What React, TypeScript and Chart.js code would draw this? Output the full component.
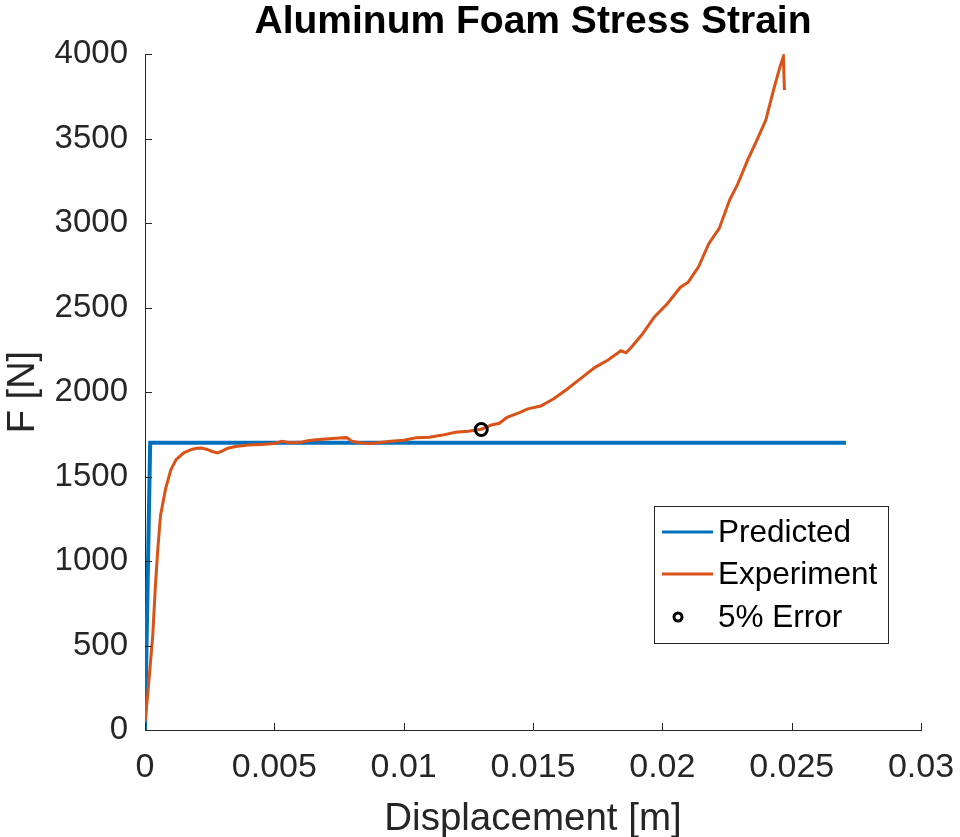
import React, { useEffect, useRef } from 'react';
import { Chart, registerables } from 'chart.js';

Chart.register(...registerables);

// ---- data ----
const predictedX = [0, 0.0002, 0.0271];
const predictedY = [0, 1700, 1700];

const experimentX = [
  0, 0.0001, 0.0002, 0.0003, 0.0004, 0.0005, 0.0006, 0.0008, 0.001, 0.0012,
  0.0015, 0.0018, 0.002, 0.0022, 0.0024, 0.0026, 0.0028, 0.003, 0.0032, 0.0035,
  0.004, 0.0045, 0.005, 0.0053, 0.0056, 0.006, 0.0063, 0.0066, 0.007, 0.0075,
  0.0078, 0.008, 0.0083, 0.0087, 0.009, 0.0095, 0.01, 0.0105, 0.011, 0.0115,
  0.012, 0.0125, 0.013, 0.0134, 0.0137, 0.014, 0.0145, 0.0148, 0.0153, 0.0158,
  0.0163, 0.0168, 0.0174, 0.0179, 0.0184, 0.0186, 0.0188, 0.0192, 0.0197, 0.0202,
  0.0207, 0.021, 0.0214, 0.0218, 0.0222, 0.0226, 0.0229, 0.0233, 0.0236, 0.024,
  0.0243, 0.02455, 0.02468, 0.02472,
];
const experimentY = [
  50, 200, 380, 560, 850, 1080, 1270, 1430, 1540, 1600,
  1640, 1660, 1667, 1668, 1660, 1648, 1640, 1652, 1667, 1678,
  1686, 1690, 1695, 1708, 1700, 1702, 1712, 1718, 1722, 1728,
  1730, 1708, 1700, 1696, 1700, 1708, 1714, 1730, 1732, 1745,
  1762, 1768, 1780, 1805, 1815, 1850, 1880, 1900, 1917, 1960,
  2015, 2075, 2146, 2189, 2244, 2232, 2265, 2337, 2446, 2524,
  2620, 2650, 2741, 2879, 2968, 3136, 3225, 3373, 3471, 3609,
  3787, 3925, 3984, 3787,
];

const errorX = [0.013];
const errorY = [1778];

const seriesLabels = ['Predicted', 'Experiment', '5% Error'];

const xTicks = [0, 0.005, 0.01, 0.015, 0.02, 0.025, 0.03];
const xTickLabels = ['0', '0.005', '0.01', '0.015', '0.02', '0.025', '0.03'];
const yTicks = [0, 500, 1000, 1500, 2000, 2500, 3000, 3500, 4000];
const yTickLabels = ['0', '500', '1000', '1500', '2000', '2500', '3000', '3500', '4000'];

const titleText = 'Aluminum Foam Stress Strain';
const xTitle = 'Displacement [m]';
const yTitle = 'F [N]';

const FONT = "'Liberation Sans', Arial, Helvetica, sans-serif";
const AXIS = '#262626';

const toPoints = (xs: number[], ys: number[]) => xs.map((x, i) => ({ x, y: ys[i] }));

const inwardTicks = {
  id: 'inwardTicks',
  afterDraw(chart: any) {
    const { ctx, chartArea, scales } = chart;
    const len = 7;
    ctx.save();
    ctx.strokeStyle = AXIS;
    ctx.lineWidth = 1;
    ctx.beginPath();
    xTicks.forEach((v) => {
      const px = Math.round(scales.x.getPixelForValue(v)) + 0.5;
      ctx.moveTo(px, chartArea.bottom);
      ctx.lineTo(px, chartArea.bottom - len);
    });
    yTicks.forEach((v) => {
      const py = Math.round(scales.y.getPixelForValue(v)) + 0.5;
      ctx.moveTo(chartArea.left, py);
      ctx.lineTo(chartArea.left + len, py);
    });
    ctx.stroke();
    ctx.restore();
  },
};

const boxLegend = {
  id: 'boxLegend',
  afterDraw(chart: any) {
    const { ctx, chartArea } = chart;
    const w = 234;
    const h = 137;
    const left = chartArea.right - 33 - w;
    const top = chartArea.top + 452;
    ctx.save();
    ctx.fillStyle = '#ffffff';
    ctx.fillRect(left, top, w, h);
    ctx.strokeStyle = AXIS;
    ctx.lineWidth = 1;
    ctx.strokeRect(Math.round(left) + 0.5, Math.round(top) + 0.5, w, h);
    const rows = [26, 68, 111];
    ctx.font = `31.5px ${FONT}`;
    ctx.textBaseline = 'middle';
    ctx.textAlign = 'left';
    chart.data.datasets.forEach((ds: any, i: number) => {
      const y = top + rows[i];
      ctx.strokeStyle = ds.borderColor;
      ctx.lineWidth = 3;
      ctx.beginPath();
      if (ds.showLine) {
        ctx.moveTo(left + 8, y);
        ctx.lineTo(left + 59, y);
      } else {
        ctx.arc(left + 24, y, 4, 0, Math.PI * 2);
      }
      ctx.stroke();
      ctx.fillStyle = '#000000';
      ctx.fillText(ds.label, left + 64, y + 1);
    });
    ctx.restore();
  },
};

export default function App() {
  const ref = useRef<HTMLCanvasElement | null>(null);

  useEffect(() => {
    if (!ref.current) return;
    Chart.defaults.font.family = FONT;
    Chart.defaults.color = AXIS;
    const chart = new Chart(ref.current, {
      type: 'scatter',
      data: {
        datasets: [
          {
            label: seriesLabels[0],
            data: toPoints(predictedX, predictedY),
            showLine: true,
            borderColor: '#0072BD',
            backgroundColor: '#0072BD',
            borderWidth: 4,
            pointRadius: 0,
            tension: 0,
            order: 2,
          },
          {
            label: seriesLabels[1],
            data: toPoints(experimentX, experimentY),
            showLine: true,
            borderColor: '#D95319',
            backgroundColor: '#D95319',
            borderWidth: 3,
            pointRadius: 0,
            tension: 0,
            order: 1,
          },
          {
            label: seriesLabels[2],
            data: toPoints(errorX, errorY),
            showLine: false,
            borderColor: '#000000',
            backgroundColor: 'rgba(0,0,0,0)',
            borderWidth: 3,
            pointRadius: 6,
            pointStyle: 'circle',
            order: 0,
          },
        ],
      },
      options: {
        responsive: false,
        animation: false,
        devicePixelRatio: 1,
        layout: { padding: 0 },
        plugins: {
          legend: { display: false },
          tooltip: { enabled: false },
          title: {
            display: true,
            text: titleText,
            fullSize: false,
            color: '#000000',
            font: { size: 39, weight: 'bold', family: FONT, lineHeight: 0.7 },
            padding: { top: 8.4, bottom: 18.3 },
          },
        },
        scales: {
          x: {
            type: 'linear',
            min: 0,
            max: 0.03,
            afterBuildTicks: (s: any) => {
              s.ticks = xTicks.map((v) => ({ value: v }));
            },
            afterFit: (s: any) => {
              s.height = 107;
              s.paddingLeft = 0;
              s.paddingRight = 39;
            },
            ticks: {
              color: AXIS,
              font: { size: 34, family: FONT },
              padding: 17,
              maxRotation: 0,
              autoSkip: false,
              callback: (_v: any, i: number) => xTickLabels[i],
            },
            grid: { color: 'rgba(0,0,0,0)', drawTicks: false },
            border: { display: true, color: AXIS, width: 1 },
            title: {
              display: true,
              text: xTitle,
              color: AXIS,
              font: { size: 38.5, family: FONT, lineHeight: 0.5 },
              padding: { top: 0, bottom: 8 },
            },
          },
          y: {
            type: 'linear',
            min: 0,
            max: 4000,
            afterBuildTicks: (s: any) => {
              s.ticks = yTicks.map((v) => ({ value: v }));
            },
            afterFit: (s: any) => {
              s.width = 145;
            },
            ticks: {
              color: AXIS,
              font: { size: 33, family: FONT },
              padding: 17,
              autoSkip: false,
              callback: (_v: any, i: number) => yTickLabels[i],
            },
            grid: { color: 'rgba(0,0,0,0)', drawTicks: false },
            border: { display: true, color: AXIS, width: 1 },
            title: {
              display: true,
              text: yTitle,
              color: AXIS,
              font: { size: 38, family: FONT, lineHeight: 0.8 },
              padding: { top: 8, bottom: 0 },
            },
          },
        },
      },
      plugins: [inwardTicks, boxLegend],
    } as any);
    return () => chart.destroy();
  }, []);

  return (
    <div style={{ position: 'absolute', left: 0, top: 0, width: 960, height: 837, overflow: 'hidden' }}>
      <canvas ref={ref} width={960} height={837} style={{ display: 'block' }} />
    </div>
  );
}
